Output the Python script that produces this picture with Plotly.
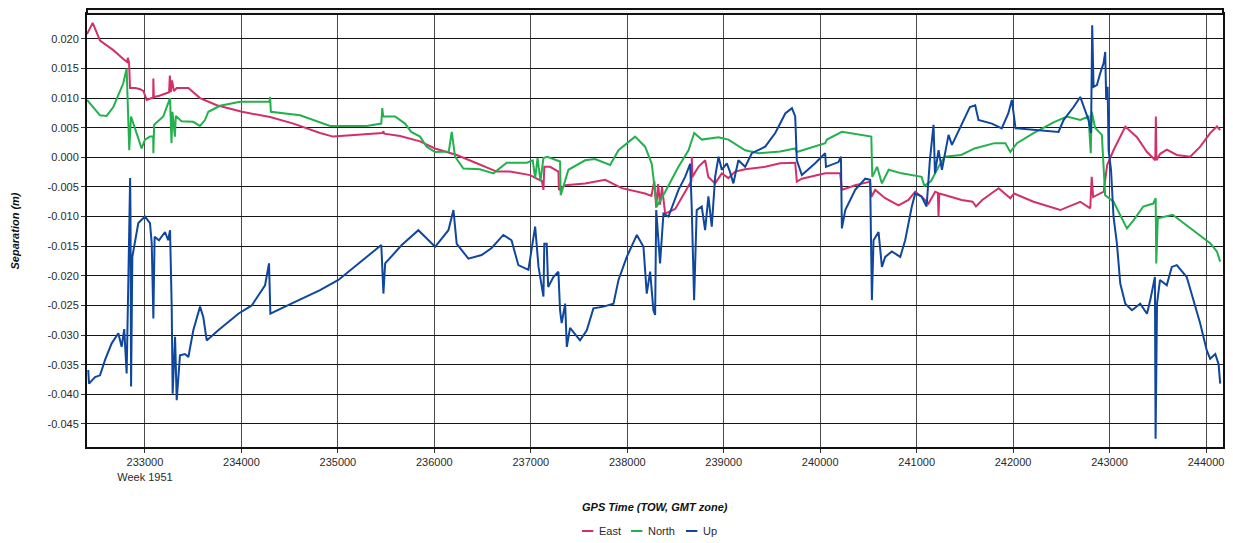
import plotly.graph_objects as go

# ---------------- data ----------------
east_x = [232399, 232458, 232534, 232672, 232775, 232815, 232822, 232835, 232845, 232900,
          232950, 232983, 233018, 233060, 233085, 233087, 233092, 233150, 233210, 233250,
          233258, 233268, 233280, 233300, 233329, 233450, 233571, 233744, 234006, 234297,
          234540, 234815, 234950, 235157, 235460, 235472, 235480, 235645, 235852, 236007,
          236232, 236439, 236646, 236785, 236993, 237062, 237115, 237131, 237140, 237200,
          237286, 237292, 237356, 237563, 237770, 237943, 238185, 238250, 238280, 238300,
          238320, 238340, 238360, 238393, 238497, 238600, 238665, 238669, 238675, 238738,
          238808, 238840, 238911, 238980, 239049, 239118, 239222, 239430, 239585, 239741,
          239758, 239810, 240052, 240207, 240225, 240363, 240518, 240530, 240570, 240674,
          240812, 240915, 240985, 241054, 241123, 241192, 241220, 241227, 241235, 241300,
          241466, 241580, 241615, 241680, 241850, 241971, 242010, 242212, 242489, 242696,
          242800, 242815, 242830, 242939, 242975, 243041, 243163, 243284, 243388, 243474,
          243480, 243486, 243525, 243594, 243697, 243836, 243940, 244043, 244113, 244147]
east_y = [0.0208, 0.0227, 0.0197, 0.0181, 0.0166, 0.0161, 0.0168, 0.0160, 0.0117, 0.0117,
          0.0115, 0.0112, 0.0097, 0.0100, 0.0101, 0.0133, 0.0102, 0.0104, 0.0107, 0.0110,
          0.0138, 0.0110, 0.0130, 0.0112, 0.0117, 0.0117, 0.0100, 0.0088, 0.0077, 0.0068,
          0.0057, 0.0041, 0.0035, 0.0037, 0.0041, 0.0044, 0.0040, 0.0036, 0.0027, 0.0015,
          0.0004, -0.0010, -0.0024, -0.0024, -0.0030, -0.0036, -0.0040, -0.0055, -0.0016, -0.0016,
          -0.0024, -0.0055, -0.0047, -0.0044, -0.0038, -0.0052, -0.0061, -0.0065, -0.0040, -0.0085,
          -0.0045, -0.0080, -0.0050, -0.0095, -0.0087, -0.0058, -0.0040, 0.0001, -0.0033, -0.0016,
          -0.0005, -0.0033, -0.0044, -0.0027, -0.0035, -0.0024, -0.0020, -0.0016, -0.0010, -0.0009,
          -0.0041, -0.0036, -0.0027, -0.0027, -0.0055, -0.0047, -0.0041, -0.0067, -0.0055, -0.0069,
          -0.0081, -0.0072, -0.0058, -0.0067, -0.0078, -0.0058, -0.0060, -0.0100, -0.0061, -0.0064,
          -0.0072, -0.0075, -0.0083, -0.0072, -0.0052, -0.0069, -0.0061, -0.0075, -0.0089, -0.0075,
          -0.0086, -0.0033, -0.0067, -0.0058, -0.0013, 0.0012, 0.0052, 0.0034, 0.0009, -0.0005,
          0.0069, -0.0005, 0.0006, 0.0013, 0.0004, 0.0001, 0.0018, 0.0041, 0.0052, 0.0046]

north_x = [232399, 232458, 232534, 232603, 232672, 232775, 232810, 232837, 232855, 232913,
           232965, 233000, 233052, 233085, 233087, 233095, 233190, 233260, 233275, 233285,
           233310, 233320, 233378, 233500, 233570, 233622, 233657, 233778, 233985, 234290,
           234297, 234305, 234608, 234919, 235299, 235450, 235460, 235470, 235593, 235696,
           235760, 235852, 235920, 236007, 236150, 236180, 236215, 236301, 236473, 236612,
           236750, 236960, 237020, 237045, 237070, 237100, 237131, 237170, 237303, 237310,
           237390, 237563, 237666, 237822, 237909, 238081, 238185, 238254, 238306, 238393,
           238531, 238635, 238694, 238772, 238946, 239049, 239222, 239360, 239585, 239741,
           239758, 240052, 240070, 240225, 240400, 240530, 240540, 240590, 240640, 240710,
           240844, 240950, 241051, 241080, 241150, 241227, 241290, 241462, 241600, 241807,
           241920, 241971, 242040, 242212, 242419, 242558, 242696, 242782, 242805, 242815,
           242850, 242920, 242954, 243041, 243180, 243250, 243349, 243453, 243478, 243484,
           243500, 243654, 243790, 243940, 244043, 244113, 244147]
north_y = [0.0097, 0.0085, 0.0071, 0.0070, 0.0085, 0.0125, 0.0150, 0.0012, 0.0069, 0.0041,
           0.0015, 0.0030, 0.0035, 0.0035, 0.0007, 0.0055, 0.0069, 0.0100, 0.0024, 0.0077,
           0.0035, 0.0070, 0.0061, 0.0060, 0.0053, 0.0063, 0.0077, 0.0087, 0.0094, 0.0094,
           0.0102, 0.0077, 0.0071, 0.0053, 0.0053, 0.0057, 0.0083, 0.0069, 0.0069, 0.0057,
           0.0043, 0.0035, 0.0018, 0.0009, 0.0010, 0.0043, 0.0001, -0.0019, -0.0020, -0.0027,
           -0.0009, -0.0009, -0.0005, -0.0035, -0.0001, -0.0040, -0.0001, 0.0001, -0.0007, -0.0064,
           -0.0021, -0.0005, -0.0003, -0.0013, 0.0012, 0.0035, 0.0018, -0.0011, -0.0083, -0.0058,
           -0.0016, 0.0012, 0.0041, 0.0030, 0.0034, 0.0030, 0.0012, 0.0007, 0.0010, 0.0015,
           0.0009, 0.0024, 0.0030, 0.0043, 0.0038, 0.0035, -0.0033, -0.0016, -0.0044, -0.0021,
           -0.0027, -0.0030, -0.0033, -0.0048, -0.0040, -0.0016, 0.0001, 0.0004, 0.0015, 0.0024,
           0.0024, 0.0009, 0.0024, 0.0041, 0.0059, 0.0069, 0.0063, 0.0069, 0.0007, 0.0077,
           0.0050, 0.0038, -0.0064, -0.0075, -0.0120, -0.0106, -0.0083, -0.0078, -0.0069, -0.0179,
           -0.0103, -0.0097, -0.0114, -0.0133, -0.0145, -0.0159, -0.0176]

up_x = [232412, 232420, 232482, 232534, 232586, 232655, 232724, 232758, 232785, 232810,
        232827, 232843, 232846, 232850, 232856, 232869, 232897, 232931, 233000, 233052,
        233070, 233087, 233100, 233145, 233208, 233240, 233260, 233277, 233287, 233312,
        233329, 233363, 233415, 233450, 233501, 233571, 233605, 233640, 233760, 233968,
        234107, 234245, 234286, 234300, 234452, 234815, 235005, 235212, 235450, 235472,
        235490, 235662, 235834, 236008, 236146, 236198, 236232, 236353, 236490, 236594,
        236715, 236800, 236871, 236975, 237027, 237045, 237080, 237131, 237140, 237165,
        237180, 237234, 237286, 237303, 237320, 237356, 237373, 237407, 237510, 237580,
        237649, 237753, 237857, 237909, 237995, 238099, 238168, 238202, 238237, 238271,
        238289, 238300, 238340, 238375, 238427, 238531, 238600, 238652, 238669, 238693,
        238720, 238772, 238807, 238841, 238876, 238911, 238946, 238980, 239032, 239066,
        239100, 239152, 239222, 239291, 239430, 239534, 239585, 239638, 239707, 239741,
        239758, 239810, 239948, 240052, 240060, 240190, 240215, 240225, 240260, 240363,
        240467, 240518, 240536, 240553, 240605, 240640, 240674, 240743, 240830, 240881,
        240950, 240985, 241051, 241103, 241137, 241175, 241190, 241227, 241262, 241331,
        241366, 241466, 241552, 241607, 241641, 241780, 241882, 241950, 241987, 242025,
        242212, 242471, 242523, 242627, 242696, 242748, 242782, 242808, 242820, 242834,
        242869, 242903, 242938, 242955, 242965, 242980, 242990, 243015, 243041, 243076,
        243111, 243163, 243232, 243318, 243388, 243422, 243470, 243477, 243492, 243523,
        243593, 243645, 243697, 243800, 243869, 243939, 244008, 244043, 244096, 244130,
        244147]
up_y = [-0.0359, -0.0382, -0.0371, -0.0368, -0.0342, -0.0314, -0.0297, -0.0320, -0.0290, -0.0365,
        -0.0213, -0.0095, -0.0035, -0.0095, -0.0387, -0.0168, -0.0145, -0.0111, -0.0100, -0.0111,
        -0.0145, -0.0272, -0.0134, -0.0140, -0.0126, -0.0140, -0.0123, -0.0252, -0.0399, -0.0303,
        -0.0410, -0.0334, -0.0332, -0.0337, -0.0292, -0.0252, -0.0270, -0.0309, -0.0292, -0.0264,
        -0.0250, -0.0216, -0.0179, -0.0264, -0.0252, -0.0224, -0.0207, -0.0179, -0.0148, -0.0230,
        -0.0179, -0.0148, -0.0123, -0.0151, -0.0123, -0.0089, -0.0146, -0.0171, -0.0165, -0.0153,
        -0.0131, -0.0140, -0.0182, -0.0190, -0.0131, -0.0117, -0.0185, -0.0235, -0.0146, -0.0146,
        -0.0219, -0.0202, -0.0193, -0.0258, -0.0280, -0.0247, -0.0320, -0.0288, -0.0309, -0.0292,
        -0.0255, -0.0252, -0.0247, -0.0207, -0.0168, -0.0131, -0.0151, -0.0230, -0.0193, -0.0258,
        -0.0266, -0.0089, -0.0179, -0.0095, -0.0100, -0.0055, -0.0033, -0.0011, -0.0089, -0.0241,
        -0.0089, -0.0083, -0.0123, -0.0066, -0.0117, -0.0033, 0.0001, -0.0021, -0.0010, -0.0025,
        -0.0044, -0.0005, -0.0016, 0.0007, 0.0018, 0.0041, 0.0057, 0.0074, 0.0083, 0.0069,
        -0.0005, -0.0030, -0.0010, 0.0007, -0.0016, -0.0008, 0.0001, -0.0120, -0.0089, -0.0055,
        -0.0036, -0.0038, -0.0241, -0.0140, -0.0126, -0.0185, -0.0168, -0.0159, -0.0168, -0.0140,
        -0.0083, -0.0061, -0.0066, -0.0083, -0.0005, 0.0055, -0.0027, 0.0012, -0.0021, 0.0038,
        0.0021, 0.0057, 0.0085, 0.0088, 0.0063, 0.0057, 0.0049, 0.0074, 0.0097, 0.0049,
        0.0046, 0.0043, 0.0063, 0.0085, 0.0102, 0.0080, 0.0063, 0.0041, 0.0223, 0.0119,
        0.0122, 0.0142, 0.0159, 0.0178, 0.0097, 0.0119, 0.0012, -0.0021, -0.0100, -0.0145,
        -0.0213, -0.0247, -0.0258, -0.0247, -0.0264, -0.0241, -0.0202, -0.0475, -0.0247, -0.0207,
        -0.0216, -0.0185, -0.0182, -0.0202, -0.0241, -0.0280, -0.0326, -0.0340, -0.0332, -0.0349,
        -0.0382]

series_names = ["East", "North", "Up"]
series_colors = ["#d3306a", "#23b14d", "#0f479f"]

x_tickvals = [233000, 234000, 235000, 236000, 237000, 238000, 239000, 240000, 241000,
              242000, 243000, 244000]
x_ticktext = ["233000<br>Week 1951", "234000", "235000", "236000", "237000", "238000",
              "239000", "240000", "241000", "242000", "243000", "244000"]
y_tickvals = [0.020, 0.015, 0.010, 0.005, 0.000, -0.005, -0.010, -0.015, -0.020,
              -0.025, -0.030, -0.035, -0.040, -0.045]
y_ticktext = ["0.020", "0.015", "0.010", "0.005", "0.000", "-0.005", "-0.010", "-0.015",
              "-0.020", "-0.025", "-0.030", "-0.035", "-0.040", "-0.045"]

# ---------------- figure ----------------
# The page body keeps its default 8px margin, so the figure is sized/placed
# to land the plot area where the reference has it.
FONT = "Liberation Sans, Arial, sans-serif"
fig = go.Figure()
for name, color, xs, ys in zip(series_names, series_colors,
                               [east_x, north_x, up_x], [east_y, north_y, up_y]):
    fig.add_trace(go.Scatter(x=xs, y=ys, mode="lines", name=name,
                             line=dict(color=color, width=2), showlegend=False))

axis_common = dict(showgrid=True, gridwidth=1,
                   showline=True, linecolor="#111111", linewidth=2, mirror=True,
                   ticks="outside", ticklen=4, tickcolor="#333333",
                   tickfont=dict(family=FONT, size=11, color="#2a2a2a"),
                   zeroline=False, automargin=False)

# compact legend (short key lines, as in the reference), placed below the x title
legend_key_x0 = [0.4357, 0.4789, 0.5273]   # paper-x of each key line start
KEY_LEN = 0.0100
LEG_Y = -0.194
shapes = [
    dict(type="rect", xref="paper", yref="paper", x0=0, x1=1, y0=1.0, y1=1.0115,
         line=dict(color="#111111", width=2), fillcolor="#f5f5f5", layer="above"),
]
annotations = [
    dict(text="<b><i>Separation (m)</i></b>", xref="paper", yref="paper",
         x=-0.0634, y=0.5, xanchor="center", yanchor="middle", textangle=-90,
         showarrow=False, font=dict(family=FONT, size=11, color="#111111")),
    dict(text="<b><i>GPS Time (TOW, GMT zone)</i></b>", xref="paper", yref="paper",
         x=0.5, y=-0.1386, xanchor="center", yanchor="middle",
         showarrow=False, font=dict(family=FONT, size=11, color="#111111")),
]
for name, color, kx in zip(series_names, series_colors, legend_key_x0):
    shapes.append(dict(type="line", xref="paper", yref="paper", x0=kx, x1=kx + KEY_LEN,
                       y0=LEG_Y, y1=LEG_Y, line=dict(color=color, width=2)))
    annotations.append(dict(text=name, xref="paper", yref="paper", x=kx + KEY_LEN + 0.0035,
                            y=LEG_Y, xanchor="left", yanchor="middle", showarrow=False,
                            font=dict(family=FONT, size=11, color="#2a2a2a")))

fig.update_layout(
    width=1225, height=535,
    margin=dict(l=79, r=10, t=6, b=96, autoexpand=False),
    paper_bgcolor="white", plot_bgcolor="white",
    font=dict(family=FONT, size=11, color="#2a2a2a"),
    xaxis=dict(range=[232399, 244176], tickmode="array", tickvals=x_tickvals,
               ticktext=x_ticktext, gridcolor="#4a4a4a", **axis_common),
    yaxis=dict(range=[-0.0489, 0.0242], tickmode="array", tickvals=y_tickvals,
               ticktext=y_ticktext, gridcolor="#151515", **axis_common),
    showlegend=False,
    annotations=annotations,
    shapes=shapes,
)

fig.write_html("out.html")
